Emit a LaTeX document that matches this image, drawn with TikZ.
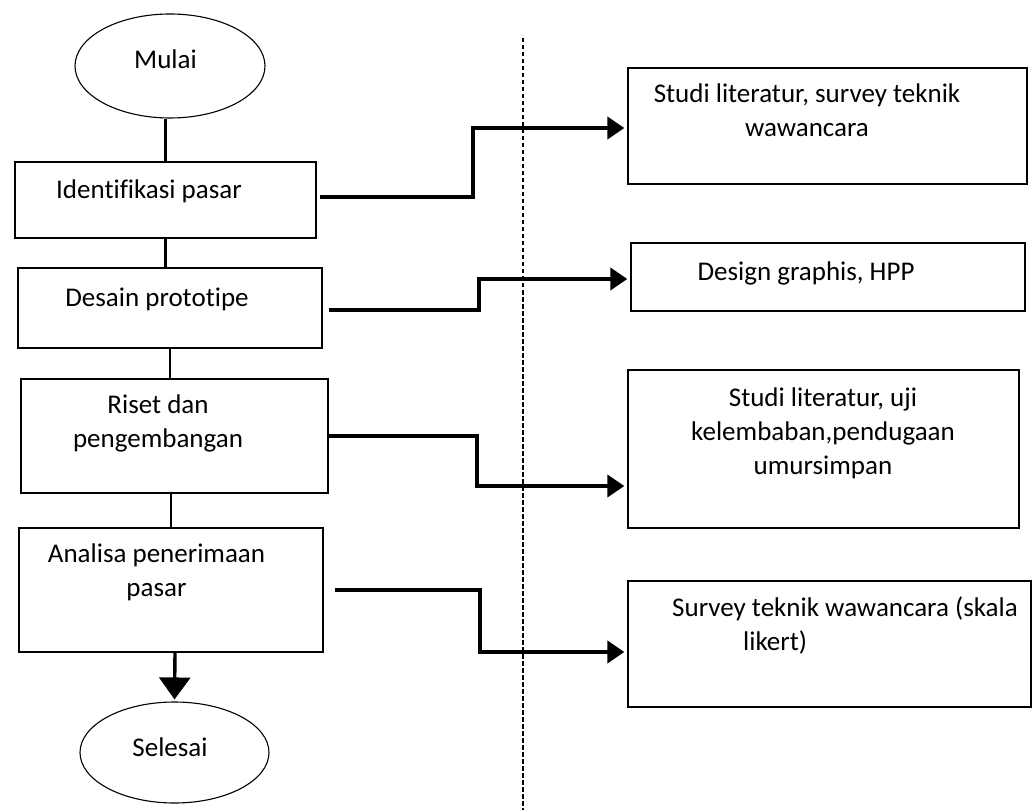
\documentclass[tikz,border=0pt]{standalone}
\usepackage{fontspec}
\setmainfont{Carlito}[Ligatures=NoCommon]
\usetikzlibrary{shapes.geometric,arrows.meta}

\begin{document}
\begin{tikzpicture}[x=1pt, y=-1pt,
                    font=\fontsize{27}{34}\selectfont,
                    box/.style={draw, rectangle, line width=1.3pt, inner sep=0pt},
                    oval/.style={draw, ellipse, line width=1.1pt, inner sep=0pt},
                    txt/.style={inner sep=0pt, align=center, anchor=base},
                    flow/.style={line width=2.8pt},
                    down/.style={line width=3.4pt, -{Triangle[length=22pt,width=31pt]}, shorten >=2pt},
                    link/.style={line width=4pt, -{Triangle[length=17pt,width=22pt]}, shorten >=3pt},
                    sep/.style={line width=2pt, dash pattern=on 4.5pt off 2.5pt}]

\useasboundingbox (0,0) rectangle (1033,810);

% left column
\node [oval, minimum width=190pt, minimum height=104pt] (start) at (170,66) {};
\node [box, minimum width=301pt, minimum height=76pt] (id) at (165.5,200) {};
\node [box, minimum width=304pt, minimum height=80pt] (proto) at (170,308) {};
\node [box, minimum width=307pt, minimum height=114pt] (res) at (174.5,436) {};
\node [box, minimum width=304pt, minimum height=124pt] (ana) at (171,590) {};
\node [oval, minimum width=189pt, minimum height=101pt] (end) at (174.5,752.5) {};

\node [txt] (tstart) at (165.5,69) {Mulai};
\node [txt] (tid) at (149,199) {Identifikasi pasar};
\node [txt] (tproto) at (157,306) {Desain prototipe};
\node [txt] (tres) at (158,447) {Riset dan\\pengembangan};
\node [txt] (tana) at (156.5,596) {Analisa penerimaan\\pasar};
\node [txt] (tend) at (170,756) {Selesai};

% right column
\node [box, minimum width=399pt, minimum height=116pt] (lit) at (827.5,126) {};
\node [box, minimum width=394pt, minimum height=68pt] (graph) at (828,277) {};
\node [box, minimum width=391pt, minimum height=158pt] (uji) at (823.5,449) {};
\node [box, minimum width=403pt, minimum height=126pt] (surv) at (829.5,644) {};

\node [txt] (tlit) at (807,137) {Studi literatur, survey teknik\\wawancara};
\node [txt] (tgraph) at (806,280) {Design graphis, HPP};
\node [txt] (tuji) at (823,474) {Studi literatur, uji\\kelembaban,pendugaan\\umursimpan};
\node [txt, align=left, anchor=base west] (tsurv) at (672,650) {Survey teknik wawancara (skala\\\hspace{71pt}likert)};

\coordinate (septop) at (522.7,38);
\coordinate (sepbot) at (522.7,810);
\draw [sep] (septop) -- (sepbot);

\draw [flow] (id.north |- start.south) -- (id.north);
\draw [flow] (id.south) -- (id.south |- proto.north);
\draw [flow] (proto.south) -- (proto.south |- res.north);
\draw [flow] (ana.north |- res.south) -- (ana.north);
\draw [down] ([xshift=4pt]ana.south) -- (end.north);

\draw [link] ([shift={(3pt,3pt)}]id.east) -- ++(153,0) |- ([yshift=-2pt]lit.west);
\draw [link] ([shift={(6pt,-2pt)}]proto.east) -- ++(150,0) |- ([yshift=-2pt]graph.west);
\draw [link] (res.east) -- ++(148,0) |- ([yshift=-37pt]uji.west);
\draw [link] ([xshift=11pt]ana.east) -- ++(145,0) |- ([yshift=-8pt]surv.west);

\end{tikzpicture}
\end{document}
